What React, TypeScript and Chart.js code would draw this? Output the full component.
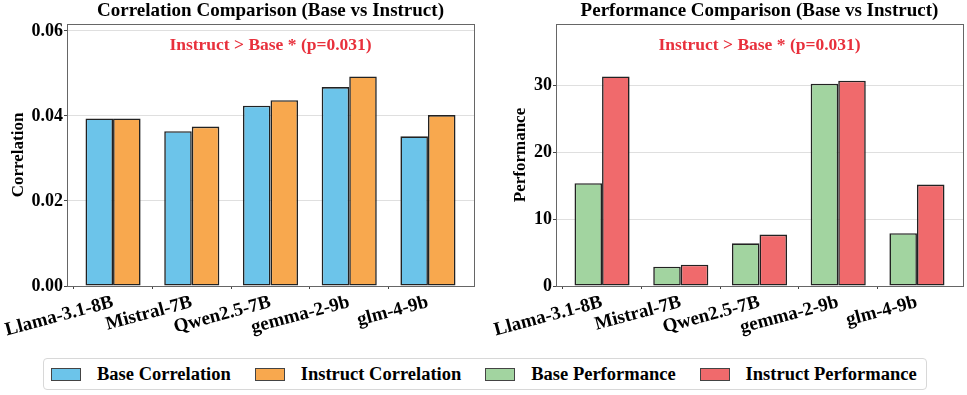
import React, { useEffect, useRef } from "react";
import { Chart, registerables } from "chart.js";

Chart.register(...registerables);

const categories = ["Llama-3.1-8B", "Mistral-7B", "Qwen2.5-7B", "gemma-2-9b", "glm-4-9b"];
const baseCorrelation = [0.0394, 0.0364, 0.0424, 0.0468, 0.0352];
const instructCorrelation = [0.0394, 0.0375, 0.0437, 0.0493, 0.0402];
const basePerformance = [15.4, 2.9, 6.4, 30.3, 7.9];
const instructPerformance = [31.4, 3.2, 7.7, 30.75, 15.2];
const corrTicks = [0, 0.02, 0.04, 0.06];
const perfTicks = [0, 10, 20, 30];
const annotationText = "Instruct > Base * (p=0.031)";

const COLORS = {
  baseCorr: "#6cc4ea",
  instCorr: "#f8a84e",
  basePerf: "#a2d4a0",
  instPerf: "#f06a6c",
};

const FONT = "'Liberation Serif', 'Times New Roman', serif";
const CANVAS_H = 350;
const PLOT_TOP = 24;
const PLOT_BOTTOM = 286;

type Panel = {
  title: string;
  yLabel: string;
  base: number[];
  inst: number[];
  baseLabel: string;
  instLabel: string;
  baseColor: string;
  instColor: string;
  ticks: number[];
  decimals: number;
  padLeft: number;
  padRight: number;
  yWidth: number;
};

const frameAndNote = {
  id: "frameAndNote",
  afterDraw(chart: any, _args: any, opts: any) {
    const { ctx, chartArea } = chart;
    ctx.save();
    ctx.strokeStyle = "#666";
    ctx.lineWidth = 1;
    ctx.strokeRect(
      Math.round(chartArea.left) + 0.5,
      Math.round(chartArea.top) + 0.5,
      Math.round(chartArea.right - chartArea.left),
      Math.round(chartArea.bottom - chartArea.top)
    );
    const cx = (chartArea.left + chartArea.right) / 2;
    ctx.textAlign = "center";
    ctx.textBaseline = "middle";
    ctx.fillStyle = "#000";
    ctx.font = `bold 19px ${FONT}`;
    ctx.fillText(opts.title, cx, 11.5);
    ctx.fillStyle = "#e8303c";
    ctx.font = `bold 17.5px ${FONT}`;
    ctx.fillText(annotationText, cx, chartArea.top + 21);
    ctx.restore();
  },
};

function makeConfig(p: Panel): any {
  const toXY = (arr: number[]) => arr.map((v, i) => ({ x: i, y: v }));
  const maxV = Math.max(...p.base, ...p.inst) * 1.25;
  const ds = (label: string, arr: number[], color: string) => ({
    label,
    data: toXY(arr),
    backgroundColor: color,
    borderColor: "#222",
    borderWidth: 1.6,
    borderSkipped: false,
    categoryPercentage: 0.7,
    barPercentage: 1.0,
  });
  return {
    type: "bar",
    data: {
      datasets: [ds(p.baseLabel, p.base, p.baseColor), ds(p.instLabel, p.inst, p.instColor)],
    },
    options: {
      animation: false,
      responsive: false,
      devicePixelRatio: 1,
      layout: { padding: { left: p.padLeft, right: p.padRight, top: PLOT_TOP, bottom: 0 } },
      plugins: {
        legend: { display: false },
        tooltip: { enabled: false },
        title: { display: false },
        frameAndNote: { title: p.title },
      },
      scales: {
        x: {
          type: "linear",
          min: -0.585,
          max: categories.length - 1 + 0.585,
          offset: false,
          afterBuildTicks: (scale: any) => {
            scale.ticks = categories.map((_, i) => ({ value: i }));
          },
          afterFit: (scale: any) => {
            scale.height = CANVAS_H - PLOT_BOTTOM;
            scale.paddingLeft = 0;
            scale.paddingRight = 0;
          },
          ticks: {
            autoSkip: false,
            includeBounds: false,
            stepSize: 1,
            minRotation: 15,
            maxRotation: 15,
            padding: 2,
            color: "#000",
            font: { family: FONT, size: 19, weight: "bold" },
            callback: (v: any) => {
              const r = Math.round(v);
              return Math.abs(v - r) < 1e-6 ? categories[r] ?? "" : "";
            },
          },
          grid: {
            display: true,
            drawOnChartArea: false,
            drawTicks: true,
            tickLength: 3,
            tickColor: (c: any) => {
              const v = c.tick ? c.tick.value : NaN;
              return Number.isInteger(v) && v >= 0 && v < categories.length ? "#444" : "rgba(0,0,0,0)";
            },
            tickWidth: 1,
          },
          border: { display: false },
        },
        y: {
          min: 0,
          max: maxV,
          afterBuildTicks: (scale: any) => {
            scale.ticks = p.ticks.map((v) => ({ value: v }));
          },
          afterFit: (scale: any) => {
            scale.width = p.yWidth;
            scale.paddingTop = 0;
            scale.paddingBottom = 0;
          },
          ticks: {
            padding: 1,
            color: "#000",
            font: { family: FONT, size: 18, weight: "bold" },
            callback: (v: any) => Number(v).toFixed(p.decimals),
          },
          title: {
            display: true,
            text: p.yLabel,
            color: "#000",
            font: { family: FONT, size: 17, weight: "bold", lineHeight: 1.2 },
            padding: { top: 0, bottom: 0 },
          },
          grid: {
            display: true,
            color: "rgba(175,175,175,0.5)",
            lineWidth: 0.8,
            borderDash: [3, 2],
            drawTicks: true,
            tickLength: 3,
            tickColor: "#444",
            tickWidth: 1,
            tickBorderDash: [],
          },
          border: { display: false },
        },
      },
    },
    plugins: [frameAndNote],
  };
}

const leftPanel: Panel = {
  title: "Correlation Comparison (Base vs Instruct)",
  yLabel: "Correlation",
  base: baseCorrelation,
  inst: instructCorrelation,
  baseLabel: "Base Correlation",
  instLabel: "Instruct Correlation",
  baseColor: COLORS.baseCorr,
  instColor: COLORS.instCorr,
  ticks: corrTicks,
  decimals: 2,
  padLeft: 8,
  padRight: 9,
  yWidth: 59,
};

const rightPanel: Panel = {
  title: "Performance Comparison (Base vs Instruct)",
  yLabel: "Performance",
  base: basePerformance,
  inst: instructPerformance,
  baseLabel: "Base Performance",
  instLabel: "Instruct Performance",
  baseColor: COLORS.basePerf,
  instColor: COLORS.instPerf,
  ticks: perfTicks,
  decimals: 0,
  padLeft: 27,
  padRight: 4,
  yWidth: 46,
};

const legendItems = [
  { label: leftPanel.baseLabel, color: COLORS.baseCorr },
  { label: leftPanel.instLabel, color: COLORS.instCorr },
  { label: rightPanel.baseLabel, color: COLORS.basePerf },
  { label: rightPanel.instLabel, color: COLORS.instPerf },
];

function ChartCanvas({ panel, left, width }: { panel: Panel; left: number; width: number }) {
  const ref = useRef<HTMLCanvasElement | null>(null);
  useEffect(() => {
    if (!ref.current) return;
    const chart = new Chart(ref.current, makeConfig(panel));
    return () => chart.destroy();
  }, [panel]);
  return (
    <canvas
      ref={ref}
      width={width}
      height={CANVAS_H}
      style={{ position: "absolute", left, top: 0, width, height: CANVAS_H }}
    />
  );
}

export default function App() {
  return (
    <div
      style={{
        position: "fixed",
        left: 0,
        top: 0,
        width: 967,
        height: 395,
        background: "#fff",
        overflow: "hidden",
      }}
    >
      <ChartCanvas panel={leftPanel} left={0} width={483} />
      <ChartCanvas panel={rightPanel} left={483} width={484} />
      <div
        style={{
          position: "absolute",
          left: 43,
          top: 358,
          width: 884,
          height: 32,
          boxSizing: "border-box",
          border: "1px solid #d8d8d8",
          borderRadius: 4,
          display: "flex",
          alignItems: "center",
          paddingLeft: 7,
          fontFamily: FONT,
          fontWeight: "bold",
          fontSize: 18.5,
          color: "#000",
          whiteSpace: "nowrap",
        }}
      >
        {legendItems.map((it, i) => (
          <div
            key={it.label}
            style={{ display: "flex", alignItems: "center", marginRight: i < legendItems.length - 1 ? 24 : 0 }}
          >
            <span
              style={{
                display: "inline-block",
                width: 30,
                height: 13,
                boxSizing: "border-box",
                background: it.color,
                border: "1px solid #444",
                marginRight: 16,
              }}
            />
            <span>{it.label}</span>
          </div>
        ))}
      </div>
    </div>
  );
}
